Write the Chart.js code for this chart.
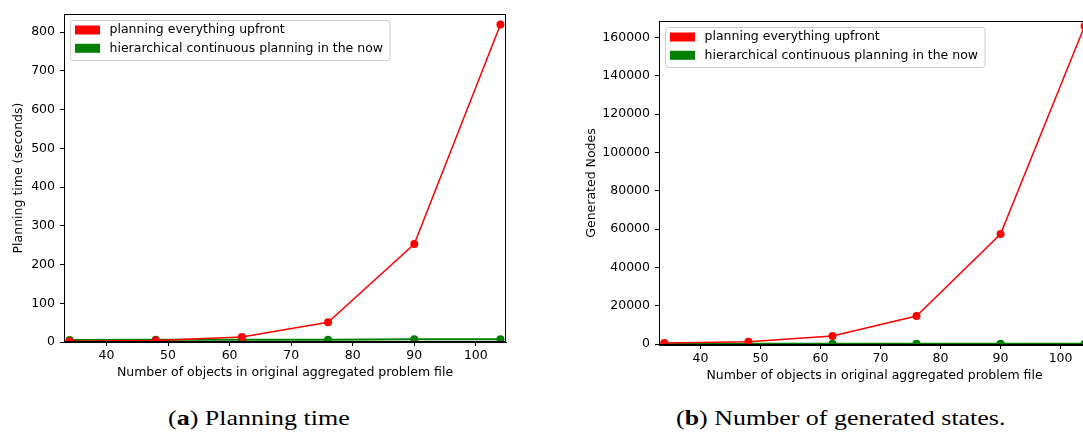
<!DOCTYPE html>
<html>
<head>
<meta charset="utf-8">
<script src="https://cdn.jsdelivr.net/npm/chart.js@4.4.0/dist/chart.umd.min.js"></script>
<style>
  html, body { margin: 0; padding: 0; background: #fff; width: 1083px; height: 432px; overflow: hidden; }
  #wrapA { position: absolute; left: 0; top: 0; width: 540px; height: 390px; }
  #wrapB { position: absolute; left: 540px; top: 0; width: 560px; height: 390px; }
  .legenda { position: absolute; top: 405px; font-family: "Liberation Serif", serif; font-size: 22px; color: #000; white-space: nowrap; transform-origin: 0 0; transform: scaleX(1.18); }
  #capA { left: 168px; }
  #capB { left: 676px; }
</style>
</head>
<body>
<div id="wrapA"><canvas id="graficoTempo" width="540" height="390"></canvas></div>
<div id="wrapB"><canvas id="graficoNos" width="560" height="390"></canvas></div>
<div class="legenda" id="capA">(<b>a</b>) Planning time</div>
<div class="legenda" id="capB">(<b>b</b>) Number of generated states.</div>
<script>
// dados
const objetos = [34, 48, 62, 76, 90, 104];
const tempoUpfront = [2, 4, 13, 51, 253, 820];
const tempoHierarquico = [5, 6, 6, 6, 7, 7];
const nosUpfront = [600, 1300, 4300, 14700, 57500, 166000];
const nosHierarquico = [150, 200, 250, 250, 300, 300];

const ticksX = [40, 50, 60, 70, 80, 90, 100];
const ticksTempo = [0, 100, 200, 300, 400, 500, 600, 700, 800];
const ticksNos = [0, 20000, 40000, 60000, 80000, 100000, 120000, 140000, 160000];

const nomeUpfront = "planning everything upfront";
const nomeHierarquico = "hierarchical continuous planning in the now";
const tituloX = "Number of objects in original aggregated problem file";

const fonte = { family: "DejaVu Sans", size: 12.5 };

// moldura + legenda dentro da area do grafico (estilo matplotlib)
const molduraLegenda = {
  id: "molduraLegenda",
  afterDraw(chart) {
    const { ctx, chartArea: a } = chart;
    ctx.save();
    const l = Math.round(a.left) + 0.5, r = Math.round(a.right) - 0.5;
    const t = Math.round(a.top) + 0.5, b = Math.round(a.bottom) - 0.5;
    ctx.strokeStyle = "#000";
    ctx.lineWidth = 1;
    ctx.beginPath();
    ctx.moveTo(l, b); ctx.lineTo(l, t); ctx.lineTo(r, t); ctx.lineTo(r, b); ctx.lineTo(l, b);
    ctx.stroke();

    ctx.font = "12.5px 'DejaVu Sans'";
    const ds = chart.data.datasets;
    const largura = Math.max(...ds.map(d => ctx.measureText(d.label).width));
    const x0 = Math.round(a.left) + 6.5, y0 = Math.round(a.top) + 6.5;
    const w = 39 + largura + 7, h = 40;
    ctx.beginPath();
    ctx.roundRect(x0, y0, w, h, 3);
    ctx.fillStyle = "rgba(255,255,255,0.8)";
    ctx.fill();
    ctx.strokeStyle = "#cccccc";
    ctx.stroke();
    ds.forEach((d, i) => {
      const cy = y0 + 9.5 + i * 18.3;
      ctx.fillStyle = d.borderColor;
      ctx.fillRect(x0 + 4.5, cy - 4.5, 25, 9);
      ctx.fillStyle = "#000";
      ctx.textBaseline = "middle";
      ctx.textAlign = "left";
      ctx.fillText(d.label, x0 + 39, cy);
    });
    ctx.restore();
  }
};

function serie(label, valores, cor, espessura) {
  return {
    label,
    data: objetos.map((x, i) => ({ x, y: valores[i] })),
    borderColor: cor,
    backgroundColor: cor,
    borderWidth: espessura,
    pointRadius: 4,
    pointBorderWidth: 0,
    pointBackgroundColor: cor,
    tension: 0
  };
}

function criarGrafico(id, upfront, hierarquico, ticksY, yMin, yMax, tituloY, pad, largY, altX, padTitX) {
  const ctx = document.getElementById(id).getContext("2d");
  return new Chart(ctx, {
    type: "line",
    data: {
      datasets: [
        serie(nomeUpfront, upfront, "#ff0000", 1.5),
        serie(nomeHierarquico, hierarquico, "#008000", 2)
      ]
    },
    options: {
      responsive: false,
      animation: false,
      layout: { padding: pad },
      plugins: { legend: { display: false }, tooltip: { enabled: false } },
      scales: {
        x: {
          type: "linear",
          min: 33.1,
          max: 104.9,
          afterBuildTicks: s => { s.ticks = ticksX.map(v => ({ value: v })); },
          afterFit: s => { s.height = altX; },
          grid: { drawOnChartArea: false, drawTicks: true, tickLength: 4, tickColor: "#000" },
          border: { color: "#000", width: 1 },
          ticks: { padding: 2, color: "#000", font: fonte, maxRotation: 0, autoSkip: false, callback: v => String(v) },
          title: { display: true, text: tituloX, color: "#000", font: fonte, padding: { top: 0, bottom: padTitX } }
        },
        y: {
          type: "linear",
          min: yMin,
          max: yMax,
          afterBuildTicks: s => { s.ticks = ticksY.map(v => ({ value: v })); },
          afterFit: s => { s.width = largY; },
          grid: { drawOnChartArea: false, drawTicks: true, tickLength: 4, tickColor: "#000" },
          border: { color: "#000", width: 1 },
          ticks: { padding: 5, color: "#000", font: fonte, autoSkip: false, callback: v => String(v) },
          title: { display: true, text: tituloY, color: "#000", font: fonte, padding: { top: 0, bottom: 0 } }
        }
      }
    },
    plugins: [molduraLegenda]
  });
}

criarGrafico("graficoTempo", tempoUpfront, tempoHierarquico, ticksTempo, 0, 847,
  "Planning time (seconds)", { left: 11.5, top: 14, right: 34, bottom: 0 }, 52.5, 48, 10);

criarGrafico("graficoNos", nosUpfront, nosHierarquico, ticksNos, -400, 168600,
  "Generated Nodes", { left: 44, top: 21, right: 10, bottom: 0 }, 75, 45, 6.5);
</script>
</body>
</html>
